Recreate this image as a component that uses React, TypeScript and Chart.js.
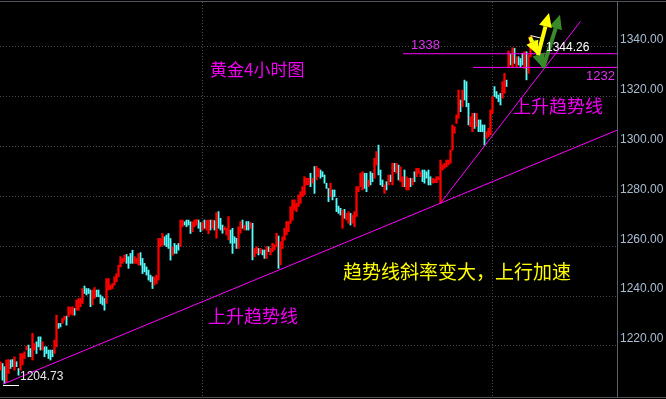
import React, { useEffect, useRef } from "react";
import { Chart, registerables } from "chart.js";

Chart.register(...registerables);

// 4-hour gold candles: open / close (price)
const OPEN = [
  1210.2, 1212.9, 1211.6, 1205.6, 1208.9, 1214.3, 1214.5, 1210.2, 1213.6, 1210.9,
  1210.2, 1212.3, 1214.9, 1218.3, 1220.3, 1218.9, 1214.3, 1218.3, 1221.6, 1223.6,
  1223.6, 1218.3, 1219.6, 1219.6, 1218.3, 1218.3, 1218.3, 1216.9, 1219.6, 1229.0,
  1229.0, 1229.0, 1230.3, 1231.9, 1231.7, 1232.7, 1232.3, 1235.0, 1234.3, 1234.3,
  1235.7, 1237.0, 1244.0, 1243.0, 1243.0, 1242.4, 1236.4, 1239.0, 1242.4, 1242.4,
  1240.4, 1239.7, 1239.0, 1237.0, 1242.4, 1242.6, 1243.0, 1244.4, 1245.7, 1247.7,
  1251.7, 1253.1, 1253.8, 1256.7, 1255.8, 1257.1, 1258.4, 1253.1, 1253.1, 1252.4,
  1257.4, 1255.1, 1253.1, 1251.7, 1250.4, 1248.4, 1247.7, 1244.4, 1245.0, 1246.4,
  1259.8, 1260.4, 1263.8, 1264.5, 1265.1, 1263.1, 1256.4, 1261.1, 1260.4, 1261.1,
  1259.8, 1267.8, 1269.8, 1270.5, 1270.5, 1269.8, 1265.8, 1267.8, 1268.5, 1270.5,
  1269.5, 1266.5, 1270.5, 1266.5, 1265.0, 1270.5, 1267.2, 1270.3, 1263.2, 1273.9,
  1271.2, 1268.5, 1266.5, 1264.5, 1262.5, 1266.5, 1267.2, 1263.8, 1263.2, 1259.1,
  1265.2, 1270.5, 1266.5, 1269.9, 1269.9, 1267.2, 1269.2, 1255.8, 1257.1, 1259.1,
  1257.1, 1258.5, 1258.5, 1255.1, 1259.8, 1256.5, 1257.8, 1258.5, 1259.8, 1264.1,
  1252.5, 1259.1, 1262.5, 1264.5, 1265.8, 1269.2, 1270.5, 1274.5, 1273.9, 1275.9,
  1277.2, 1279.9, 1280.6, 1284.6, 1284.6, 1289.3, 1285.3, 1292.0, 1286.6, 1287.9,
  1290.6, 1289.9, 1288.6, 1285.3, 1283.2, 1279.9, 1282.6, 1282.6, 1279.2, 1276.1,
  1275.2, 1267.2, 1274.8, 1270.5, 1269.2, 1273.2, 1269.2, 1267.8, 1271.9, 1281.9,
  1283.9, 1282.6, 1289.3, 1289.3, 1283.9, 1289.9, 1289.3, 1287.3, 1292.6, 1300.6,
  1290.6, 1286.6, 1281.2, 1285.9, 1284.6, 1288.6, 1284.6, 1293.3, 1289.3, 1292.6,
  1285.9, 1283.9, 1290.6, 1282.6, 1282.6, 1287.3, 1284.6, 1289.9, 1287.9, 1289.3,
  1287.9, 1290.6, 1290.6, 1289.9, 1290.6, 1287.9, 1285.3, 1285.5, 1285.5, 1286.6,
  1277.2, 1290.6, 1291.3, 1291.9, 1292.6, 1293.3, 1298.6, 1305.3, 1309.3, 1311.4,
  1318.7, 1316.0, 1326.7, 1326.1, 1317.4, 1308.0, 1306.0, 1313.4, 1308.0, 1310.7,
  1310.7, 1308.7, 1308.7, 1303.3, 1304.0, 1304.7, 1313.4, 1324.1, 1322.1, 1320.7,
  1321.4, 1319.4, 1321.4, 1326.7, 1331.7, 1337.1, 1331.7, 1339.5, 1332.1, 1336.1,
  1335.4, 1337.5, 1331.4, 1338.1, 1329.4, 1336.1,
];
const CLOSE = [
  1213.6, 1206.2, 1204.9, 1214.3, 1214.5, 1210.9, 1211.6, 1215.6, 1211.6, 1208.2,
  1216.9, 1216.9, 1217.6, 1219.9, 1215.6, 1215.6, 1225.0, 1220.9, 1216.9, 1219.6,
  1218.3, 1221.6, 1215.6, 1216.9, 1214.9, 1214.3, 1215.6, 1222.3, 1232.3, 1227.0,
  1227.6, 1231.0, 1231.9, 1228.3, 1235.7, 1235.4, 1235.7, 1232.3, 1238.4, 1239.0,
  1239.0, 1243.0, 1241.0, 1240.4, 1241.0, 1235.7, 1242.4, 1243.4, 1239.7, 1239.7,
  1237.0, 1236.4, 1234.3, 1247.0, 1247.0, 1244.4, 1245.0, 1247.7, 1249.0, 1252.4,
  1255.8, 1255.1, 1256.4, 1253.1, 1251.1, 1253.1, 1253.1, 1255.8, 1255.1, 1257.1,
  1252.4, 1249.0, 1249.7, 1248.4, 1246.4, 1245.7, 1243.0, 1247.7, 1248.4, 1263.1,
  1263.1, 1265.1, 1260.4, 1259.8, 1259.1, 1254.4, 1259.8, 1257.1, 1257.1, 1258.4,
  1270.5, 1270.5, 1268.5, 1267.8, 1268.5, 1265.1, 1269.8, 1270.5, 1270.8, 1267.2,
  1265.8, 1269.5, 1267.2, 1270.3, 1270.5, 1266.5, 1270.5, 1266.5, 1273.5, 1267.2,
  1266.5, 1265.2, 1267.8, 1267.2, 1271.9, 1261.2, 1257.1, 1261.2, 1259.1, 1267.8,
  1269.9, 1267.2, 1268.5, 1266.5, 1266.5, 1269.5, 1254.5, 1259.1, 1259.8, 1256.5,
  1259.1, 1256.5, 1255.1, 1259.8, 1257.8, 1259.1, 1261.2, 1260.5, 1265.2, 1251.1,
  1261.8, 1263.8, 1267.2, 1269.9, 1269.9, 1275.9, 1278.6, 1278.6, 1277.2, 1280.6,
  1281.9, 1283.9, 1287.9, 1287.3, 1287.3, 1283.9, 1287.3, 1281.2, 1292.0, 1291.3,
  1287.3, 1287.9, 1285.3, 1283.2, 1277.9, 1285.3, 1278.6, 1279.9, 1273.9, 1273.2,
  1272.5, 1274.5, 1271.2, 1273.2, 1273.9, 1268.5, 1272.5, 1273.9, 1283.9, 1283.9,
  1289.3, 1289.9, 1283.2, 1281.9, 1286.6, 1284.6, 1285.9, 1295.3, 1298.0, 1288.6,
  1284.6, 1283.9, 1284.6, 1282.6, 1288.6, 1285.9, 1293.3, 1289.9, 1293.3, 1286.6,
  1291.9, 1287.9, 1283.9, 1287.9, 1287.3, 1283.9, 1287.3, 1285.9, 1291.3, 1291.3,
  1289.9, 1285.9, 1285.3, 1287.3, 1284.6, 1284.6, 1287.3, 1286.9, 1287.9, 1287.9,
  1294.6, 1292.6, 1293.3, 1294.6, 1294.6, 1298.6, 1308.7, 1308.0, 1312.7, 1322.7,
  1314.0, 1322.7, 1318.7, 1316.0, 1308.7, 1312.0, 1313.4, 1307.3, 1313.4, 1306.0,
  1306.0, 1306.0, 1300.6, 1306.0, 1307.4, 1314.7, 1320.1, 1320.1, 1319.4, 1318.0,
  1316.7, 1326.1, 1329.4, 1324.1, 1338.4, 1332.8, 1339.7, 1333.4, 1336.1, 1332.8,
  1332.1, 1332.8, 1338.1, 1326.8, 1336.8, 1344.3,
];

const Y_TICKS = [1220, 1240, 1260, 1280, 1300, 1320, 1340];
const V_GRID = [100.75, 245.75];

// trend / level lines, in (candle index, price)
const LONG_TREND = [
  { x: 1.25, y: 1204.6 },
  { x: 308.25, y: 1306.6 },
];
const STEEP_TREND = [
  { x: 220, y: 1277.3 },
  { x: 290, y: 1350.3 },
];
const LEVEL_1338 = [
  { x: 201.25, y: 1337.3 },
  { x: 308.25, y: 1337.3 },
];
const LEVEL_1232 = [
  { x: 236.25, y: 1331.8 },
  { x: 308.25, y: 1331.8 },
];

const NOTES = [
  { t: "黄金4小时图", x: 104.75, y: 1330.8, c: "#f000f0", f: '17px "Noto Sans CJK SC"' },
  { t: "1338", x: 205.25, y: 1340.8, c: "#e030f0", f: '13px "Liberation Sans"' },
  { t: "1232", x: 292.75, y: 1328.2, c: "#e030f0", f: '13px "Liberation Sans"' },
  { t: "1344.26", x: 272.75, y: 1339.6, c: "#ffffff", f: '12px "Liberation Sans"' },
  { t: "1204.73", x: 9.75, y: 1207.5, c: "#e8e8e8", f: '12px "Liberation Sans"' },
  { t: "上升趋势线", x: 256.25, y: 1316.3, c: "#f000f0", f: '18px "Noto Sans CJK SC"' },
  { t: "上升趋势线", x: 103.75, y: 1232.0, c: "#f000f0", f: '18px "Noto Sans CJK SC"' },
  { t: "趋势线斜率变大，上行加速", x: 171.25, y: 1249.6, c: "#ffff00", f: '19px "Noto Sans CJK SC"' },
];

const ARROWS = [
  { from: [266.75, 1342.8], to: [271.25, 1331.6], c: "#3a8a2a" },
  { from: [271.25, 1331.6], to: [279.75, 1352.9], c: "#3a8a2a" },
  { from: [264.75, 1344.0], to: [268.75, 1336.8], c: "#ffff00" },
  { from: [268.75, 1336.8], to: [274.25, 1353.7], c: "#ffff00" },
];

const LOW_MARK = [
  { x: 1.25, y: 1204.3 },
  { x: 9.25, y: 1204.3 },
];
const PEAK_LEADER = [
  { x: 265, y: 1344.6 },
  { x: 271, y: 1343.4 },
];

function drawArrow(ctx: CanvasRenderingContext2D, x1: number, y1: number, x2: number, y2: number, color: string) {
  const ang = Math.atan2(y2 - y1, x2 - x1);
  const headLen = 14;
  const headHalf = 6.5;
  const bx = x2 - Math.cos(ang) * headLen;
  const by = y2 - Math.sin(ang) * headLen;
  ctx.save();
  ctx.strokeStyle = color;
  ctx.fillStyle = color;
  ctx.lineWidth = 4;
  ctx.beginPath();
  ctx.moveTo(x1, y1);
  ctx.lineTo(bx, by);
  ctx.stroke();
  ctx.beginPath();
  ctx.moveTo(x2, y2);
  ctx.lineTo(bx + Math.sin(ang) * headHalf, by - Math.cos(ang) * headHalf);
  ctx.lineTo(bx - Math.sin(ang) * headHalf, by + Math.cos(ang) * headHalf);
  ctx.closePath();
  ctx.fill();
  ctx.restore();
}

const annotPlugin = {
  id: "annot",
  beforeDraw(chart: any) {
    const { ctx, width, height } = chart;
    ctx.save();
    ctx.fillStyle = "#000000";
    ctx.fillRect(0, 0, width, height);
    ctx.restore();
  },
  afterDraw(chart: any) {
    const { ctx, width, chartArea, scales } = chart;
    const xs = scales.x;
    const ys = scales.y;
    const px = (v: number) => xs.getPixelForValue(v);
    const py = (v: number) => ys.getPixelForValue(v);
    ctx.save();
    // frame lines
    ctx.strokeStyle = "#50565c";
    ctx.lineWidth = 1;
    ctx.beginPath();
    ctx.moveTo(0, Math.round(chartArea.top) - 0.5);
    ctx.lineTo(width, Math.round(chartArea.top) - 0.5);
    ctx.moveTo(0, Math.round(chartArea.bottom) + 0.5);
    ctx.lineTo(width, Math.round(chartArea.bottom) + 0.5);
    ctx.stroke();

    // white markers
    ctx.strokeStyle = "#ffffff";
    ctx.beginPath();
    ctx.moveTo(px(LOW_MARK[0].x), Math.round(py(LOW_MARK[0].y)) + 0.5);
    ctx.lineTo(px(LOW_MARK[1].x), Math.round(py(LOW_MARK[1].y)) + 0.5);
    ctx.moveTo(px(PEAK_LEADER[0].x), py(PEAK_LEADER[0].y));
    ctx.lineTo(px(PEAK_LEADER[1].x), py(PEAK_LEADER[1].y));
    ctx.stroke();

    // arrows
    for (const a of ARROWS) {
      drawArrow(ctx, px(a.from[0]), py(a.from[1]), px(a.to[0]), py(a.to[1]), a.c);
    }

    // texts
    ctx.textAlign = "left";
    ctx.textBaseline = "middle";
    for (const n of NOTES) {
      ctx.font = n.f;
      ctx.fillStyle = n.c;
      ctx.fillText(n.t, px(n.x), py(n.y));
    }
    ctx.restore();
  },
};

export default function App() {
  const ref = useRef<HTMLCanvasElement>(null);
  useEffect(() => {
    document.body.style.margin = "0";
    document.body.style.background = "#000";
    const up: any[] = [];
    const down: any[] = [];
    OPEN.forEach((o, i) => {
      const c = CLOSE[i];
      const pt = { x: i, y: [Math.min(o, c), Math.max(o, c)] };
      if (c >= o) up.push(pt);
      else down.push(pt);
    });
    const lineDs = (data: any[], color: string) => ({
      type: "line" as const,
      data,
      borderColor: color,
      borderWidth: 1,
      pointRadius: 0,
      tension: 0,
      fill: false,
      order: 0,
    });
    const chart = new Chart(ref.current!, {
      type: "bar",
      data: {
        datasets: [
          lineDs(LONG_TREND, "#ff00ff"),
          lineDs(STEEP_TREND, "#ff00ff"),
          lineDs(LEVEL_1338, "#ff00ff"),
          lineDs(LEVEL_1232, "#ff00ff"),
          {
            type: "bar",
            data: up,
            backgroundColor: "#ff0000",
            barThickness: 1.6,
            grouped: false,
            order: 1,
          } as any,
          {
            type: "bar",
            data: down,
            backgroundColor: "#54fcfc",
            barThickness: 1.2,
            grouped: false,
            order: 1,
          } as any,
        ],
      },
      options: {
        animation: false,
        responsive: false,
        events: [],
        layout: { padding: { top: 2, bottom: 2, left: 0, right: 0 } },
        plugins: { legend: { display: false }, tooltip: { enabled: false }, title: { display: false } },
        scales: {
          x: {
            type: "linear",
            min: -0.25,
            max: 308.25,
            offset: false,
            position: "bottom",
            afterBuildTicks: (s: any) => {
              s.ticks = V_GRID.map((v) => ({ value: v }));
            },
            afterFit: (s: any) => {
              s.height = 0;
              s.paddingLeft = 0;
              s.paddingRight = 0;
            },
            ticks: { display: false },
            grid: { color: "#4a4a4a", drawTicks: false, lineWidth: 1, offset: false },
            border: { display: false, dash: [1, 2] },
          },
          y: {
            type: "linear",
            position: "right",
            min: 1199.44,
            max: 1358.07,
            afterBuildTicks: (s: any) => {
              s.ticks = Y_TICKS.map((v) => ({ value: v }));
            },
            afterFit: (s: any) => {
              s.width = 49;
              s.paddingTop = 0;
              s.paddingBottom = 0;
            },
            ticks: {
              color: "#a9bdd1",
              font: { family: "Liberation Sans", size: 12 },
              padding: 3,
              labelOffset: -7,
              callback: (v: any) => Number(v).toFixed(2),
            },
            grid: { color: "#4a4a4a", drawTicks: false, lineWidth: 1 },
            border: { display: true, color: "#5a636c", width: 1, dash: [1, 2] },
          },
        },
      } as any,
      plugins: [annotPlugin],
    });
    return () => chart.destroy();
  }, []);
  return (
    <div style={{ position: "fixed", left: 0, top: 0, width: 666, height: 399, background: "#000" }}>
      <canvas ref={ref} width={666} height={399} style={{ display: "block" }} />
    </div>
  );
}
